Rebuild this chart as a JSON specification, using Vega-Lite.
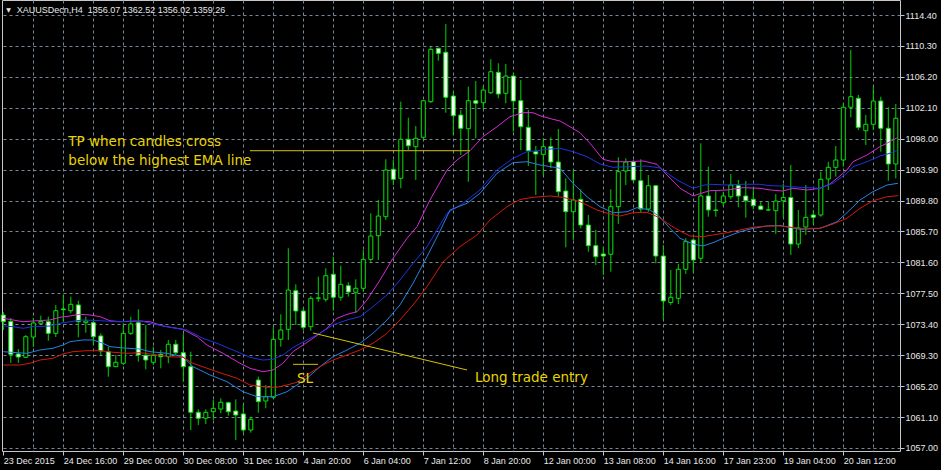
{
"$schema": "https://vega.github.io/schema/vega-lite/v6.json",
"width": 898, "height": 451,
"autosize": {"type": "none"},
"padding": {"left": 2, "top": 0, "right": 41, "bottom": 19},
"background": "#000000",
"config": {"view": {"stroke": "#c8c8c8", "strokeWidth": 1}, "axis": {"title": null, "labelOverlap": false, "labelBound": false, "labelFlush": false}},
"datasets": {
"bars": [
{"i":0,"o":1074.63,"h":1075.03,"l":1072.64,"c":1073.74},
{"i":1,"o":1073.78,"h":1074.23,"l":1068.27,"c":1069.42},
{"i":2,"o":1069.46,"h":1070.12,"l":1068.27,"c":1069.06},
{"i":3,"o":1069.02,"h":1071.98,"l":1068.93,"c":1071.75},
{"i":4,"o":1071.71,"h":1074.23,"l":1070.39,"c":1073.57},
{"i":5,"o":1073.53,"h":1074.54,"l":1073.44,"c":1073.78},
{"i":6,"o":1073.74,"h":1074.41,"l":1071.22,"c":1072.20},
{"i":7,"o":1072.20,"h":1075.96,"l":1071.71,"c":1075.20},
{"i":8,"o":1075.43,"h":1077.28,"l":1073.74,"c":1075.33},
{"i":9,"o":1075.20,"h":1077.06,"l":1074.86,"c":1076.05},
{"i":10,"o":1075.96,"h":1076.53,"l":1071.67,"c":1073.74},
{"i":11,"o":1073.61,"h":1074.41,"l":1072.28,"c":1073.83},
{"i":12,"o":1073.61,"h":1073.90,"l":1070.65,"c":1071.75},
{"i":13,"o":1071.85,"h":1072.20,"l":1069.33,"c":1069.86},
{"i":14,"o":1069.77,"h":1070.43,"l":1066.45,"c":1067.78},
{"i":15,"o":1067.78,"h":1069.33,"l":1067.70,"c":1068.36},
{"i":16,"o":1068.23,"h":1073.53,"l":1068.00,"c":1072.20},
{"i":17,"o":1072.20,"h":1074.41,"l":1071.98,"c":1073.44},
{"i":18,"o":1073.61,"h":1075.39,"l":1068.44,"c":1069.33},
{"i":19,"o":1069.29,"h":1073.31,"l":1067.43,"c":1068.66},
{"i":20,"o":1068.36,"h":1070.43,"l":1068.00,"c":1069.29},
{"i":21,"o":1069.42,"h":1069.99,"l":1067.56,"c":1069.10},
{"i":22,"o":1069.10,"h":1071.32,"l":1068.23,"c":1070.75},
{"i":23,"o":1070.75,"h":1071.32,"l":1069.33,"c":1069.63},
{"i":24,"o":1069.63,"h":1072.20,"l":1065.79,"c":1067.78},
{"i":25,"o":1067.78,"h":1069.77,"l":1059.38,"c":1061.73},
{"i":26,"o":1061.73,"h":1062.13,"l":1060.05,"c":1060.94},
{"i":27,"o":1060.94,"h":1062.13,"l":1060.18,"c":1061.73},
{"i":28,"o":1061.81,"h":1063.36,"l":1060.71,"c":1062.26},
{"i":29,"o":1062.17,"h":1063.59,"l":1061.60,"c":1063.06},
{"i":30,"o":1063.01,"h":1063.14,"l":1061.28,"c":1061.81},
{"i":31,"o":1061.90,"h":1063.45,"l":1058.06,"c":1061.37},
{"i":32,"o":1061.51,"h":1062.70,"l":1059.03,"c":1059.38},
{"i":33,"o":1059.38,"h":1061.15,"l":1059.03,"c":1060.80},
{"i":34,"o":1066.01,"h":1066.45,"l":1061.68,"c":1063.14},
{"i":35,"o":1063.23,"h":1065.35,"l":1062.26,"c":1063.80},
{"i":36,"o":1063.72,"h":1073.00,"l":1063.49,"c":1071.41},
{"i":37,"o":1071.41,"h":1074.72,"l":1070.43,"c":1072.64},
{"i":38,"o":1072.73,"h":1083.47,"l":1071.32,"c":1077.94},
{"i":39,"o":1077.85,"h":1078.70,"l":1073.31,"c":1075.16},
{"i":40,"o":1075.16,"h":1075.56,"l":1072.64,"c":1073.00},
{"i":41,"o":1073.08,"h":1077.15,"l":1072.55,"c":1076.84},
{"i":42,"o":1076.84,"h":1079.71,"l":1076.39,"c":1076.90},
{"i":43,"o":1076.71,"h":1080.82,"l":1076.39,"c":1079.84},
{"i":44,"o":1080.03,"h":1082.36,"l":1075.20,"c":1076.98},
{"i":45,"o":1076.98,"h":1081.17,"l":1076.53,"c":1078.70},
{"i":46,"o":1078.51,"h":1078.97,"l":1077.06,"c":1077.68},
{"i":47,"o":1077.64,"h":1079.36,"l":1074.94,"c":1078.17},
{"i":48,"o":1078.17,"h":1083.25,"l":1077.72,"c":1082.01},
{"i":49,"o":1082.01,"h":1088.11,"l":1081.70,"c":1085.10},
{"i":50,"o":1085.14,"h":1089.88,"l":1081.92,"c":1087.75},
{"i":51,"o":1087.66,"h":1095.27,"l":1087.22,"c":1093.85},
{"i":52,"o":1093.95,"h":1095.18,"l":1091.86,"c":1092.62},
{"i":53,"o":1092.75,"h":1102.91,"l":1091.43,"c":1097.92},
{"i":54,"o":1097.92,"h":1100.79,"l":1096.50,"c":1097.07},
{"i":55,"o":1096.94,"h":1099.69,"l":1092.53,"c":1098.06},
{"i":56,"o":1098.19,"h":1103.13,"l":1097.83,"c":1103.04},
{"i":57,"o":1102.91,"h":1110.16,"l":1102.74,"c":1109.85},
{"i":58,"o":1109.99,"h":1110.05,"l":1108.34,"c":1109.32},
{"i":59,"o":1109.46,"h":1113.21,"l":1101.45,"c":1103.49},
{"i":60,"o":1103.66,"h":1104.23,"l":1098.49,"c":1101.05},
{"i":61,"o":1101.14,"h":1101.81,"l":1095.84,"c":1099.38},
{"i":62,"o":1099.33,"h":1104.90,"l":1092.30,"c":1103.04},
{"i":63,"o":1103.04,"h":1105.65,"l":1098.06,"c":1102.70},
{"i":64,"o":1102.77,"h":1104.99,"l":1101.90,"c":1104.46},
{"i":65,"o":1104.10,"h":1108.53,"l":1103.93,"c":1106.88},
{"i":66,"o":1106.80,"h":1108.00,"l":1103.36,"c":1103.93},
{"i":67,"o":1104.02,"h":1107.90,"l":1102.70,"c":1106.31},
{"i":68,"o":1106.31,"h":1106.75,"l":1098.93,"c":1103.00},
{"i":69,"o":1103.04,"h":1105.78,"l":1096.50,"c":1099.59},
{"i":70,"o":1099.51,"h":1101.81,"l":1094.38,"c":1096.41},
{"i":71,"o":1096.28,"h":1097.03,"l":1090.54,"c":1095.97},
{"i":72,"o":1095.93,"h":1098.06,"l":1093.19,"c":1096.94},
{"i":73,"o":1096.94,"h":1098.19,"l":1094.08,"c":1094.91},
{"i":74,"o":1094.91,"h":1099.29,"l":1090.31,"c":1090.98},
{"i":75,"o":1091.07,"h":1092.75,"l":1083.60,"c":1088.32},
{"i":76,"o":1088.32,"h":1093.85,"l":1084.57,"c":1089.88},
{"i":77,"o":1089.97,"h":1091.29,"l":1086.12,"c":1086.56},
{"i":78,"o":1086.56,"h":1087.89,"l":1083.02,"c":1083.82},
{"i":79,"o":1083.82,"h":1085.90,"l":1081.26,"c":1082.36},
{"i":80,"o":1082.72,"h":1083.68,"l":1079.93,"c":1082.45},
{"i":81,"o":1082.68,"h":1091.29,"l":1080.37,"c":1088.99},
{"i":82,"o":1088.99,"h":1095.54,"l":1086.70,"c":1093.63},
{"i":83,"o":1093.72,"h":1095.40,"l":1091.86,"c":1094.91},
{"i":84,"o":1094.95,"h":1095.18,"l":1092.30,"c":1092.53},
{"i":85,"o":1092.43,"h":1095.27,"l":1088.19,"c":1088.68},
{"i":86,"o":1088.68,"h":1093.19,"l":1088.32,"c":1091.77},
{"i":87,"o":1091.77,"h":1091.85,"l":1081.48,"c":1082.45},
{"i":88,"o":1082.45,"h":1083.91,"l":1074.10,"c":1076.49},
{"i":89,"o":1076.29,"h":1080.60,"l":1075.96,"c":1076.98},
{"i":90,"o":1076.84,"h":1081.39,"l":1076.09,"c":1080.69},
{"i":91,"o":1080.69,"h":1084.80,"l":1080.07,"c":1084.35},
{"i":92,"o":1084.57,"h":1084.80,"l":1080.16,"c":1081.92},
{"i":93,"o":1082.15,"h":1097.39,"l":1081.70,"c":1090.41},
{"i":94,"o":1090.41,"h":1094.29,"l":1087.66,"c":1088.55},
{"i":95,"o":1088.55,"h":1091.11,"l":1087.66,"c":1088.50},
{"i":96,"o":1089.52,"h":1090.98,"l":1089.08,"c":1090.41},
{"i":97,"o":1090.31,"h":1093.32,"l":1089.97,"c":1091.86},
{"i":98,"o":1091.77,"h":1092.53,"l":1088.91,"c":1090.41},
{"i":99,"o":1090.41,"h":1092.40,"l":1087.53,"c":1089.78},
{"i":100,"o":1089.97,"h":1091.43,"l":1088.64,"c":1089.12},
{"i":101,"o":1089.08,"h":1089.65,"l":1088.55,"c":1088.64},
{"i":102,"o":1088.55,"h":1089.65,"l":1088.46,"c":1088.57},
{"i":103,"o":1088.46,"h":1090.67,"l":1085.37,"c":1089.74},
{"i":104,"o":1089.78,"h":1091.99,"l":1087.56,"c":1090.20},
{"i":105,"o":1090.20,"h":1094.52,"l":1082.58,"c":1084.04},
{"i":106,"o":1084.04,"h":1088.55,"l":1083.47,"c":1086.17},
{"i":107,"o":1086.30,"h":1091.86,"l":1085.24,"c":1087.58},
{"i":108,"o":1087.89,"h":1088.55,"l":1086.70,"c":1087.58},
{"i":109,"o":1087.89,"h":1093.63,"l":1087.66,"c":1092.62},
{"i":110,"o":1092.66,"h":1094.95,"l":1091.20,"c":1094.21},
{"i":111,"o":1094.21,"h":1097.03,"l":1092.97,"c":1095.18},
{"i":112,"o":1095.18,"h":1102.70,"l":1094.29,"c":1102.17},
{"i":113,"o":1102.17,"h":1109.76,"l":1100.84,"c":1103.57},
{"i":114,"o":1103.36,"h":1103.80,"l":1099.15,"c":1099.51},
{"i":115,"o":1099.06,"h":1101.14,"l":1097.17,"c":1099.91},
{"i":116,"o":1099.91,"h":1104.90,"l":1099.15,"c":1103.00},
{"i":117,"o":1103.00,"h":1103.57,"l":1096.28,"c":1099.38},
{"i":118,"o":1099.38,"h":1102.17,"l":1092.43,"c":1094.65},
{"i":119,"o":1094.65,"h":1102.60,"l":1092.75,"c":1100.71}
],
"ema": [
{"s":"a","i":0,"p":1074.19},{"s":"a","i":1.29,"p":1073.97},{"s":"a","i":2.63,"p":1073.74},{"s":"a","i":3.96,"p":1073.83},{"s":"a","i":6.23,"p":1073.97},{"s":"a","i":7.56,"p":1074.33},{"s":"a","i":8.89,"p":1074.50},{"s":"a","i":10.23,"p":1074.72},{"s":"a","i":11.56,"p":1074.63},{"s":"a","i":12.89,"p":1074.41},{"s":"a","i":14.23,"p":1073.87},{"s":"a","i":15.56,"p":1073.74},{"s":"a","i":18.23,"p":1073.83},{"s":"a","i":19.56,"p":1073.74},{"s":"a","i":21.29,"p":1073.17},{"s":"a","i":23.96,"p":1072.73},{"s":"a","i":25.83,"p":1071.75},{"s":"a","i":27.16,"p":1070.65},{"s":"a","i":29.29,"p":1069.55},{"s":"a","i":31.56,"p":1068.23},{"s":"a","i":32.89,"p":1067.56},{"s":"a","i":34.63,"p":1067.11},{"s":"a","i":35.96,"p":1067.34},{"s":"a","i":37.29,"p":1068.23},{"s":"a","i":38.63,"p":1069.77},{"s":"a","i":39.96,"p":1070.65},{"s":"a","i":41.29,"p":1071.54},{"s":"a","i":43.16,"p":1072.87},{"s":"a","i":44.49,"p":1074.19},{"s":"a","i":45.83,"p":1074.72},{"s":"a","i":47.16,"p":1075.07},{"s":"a","i":48.49,"p":1076.62},{"s":"a","i":50.23,"p":1079.27},{"s":"a","i":51.96,"p":1082.15},{"s":"a","i":53.83,"p":1084.80},{"s":"a","i":55.16,"p":1086.34},{"s":"a","i":56.89,"p":1089.88},{"s":"a","i":59.16,"p":1093.85},{"s":"a","i":60.49,"p":1095.18},{"s":"a","i":62.23,"p":1096.41},{"s":"a","i":63.96,"p":1098.27},{"s":"a","i":65.83,"p":1099.59},{"s":"a","i":67.56,"p":1100.92},{"s":"a","i":69.29,"p":1101.45},{"s":"a","i":70.63,"p":1101.45},{"s":"a","i":71.56,"p":1101.05},{"s":"a","i":73.29,"p":1100.57},{"s":"a","i":74.23,"p":1100.35},{"s":"a","i":75.56,"p":1099.59},{"s":"a","i":76.89,"p":1098.80},{"s":"a","i":78.23,"p":1097.39},{"s":"a","i":79.96,"p":1095.27},{"s":"a","i":81.29,"p":1094.95},{"s":"a","i":83.16,"p":1094.95},{"s":"a","i":85.29,"p":1095.05},{"s":"a","i":87.16,"p":1094.61},{"s":"a","i":88.49,"p":1093.19},{"s":"a","i":90.23,"p":1091.43},{"s":"a","i":91.96,"p":1090.41},{"s":"a","i":93.29,"p":1090.84},{"s":"a","i":94.23,"p":1091.11},{"s":"a","i":96.49,"p":1091.20},{"s":"a","i":98.63,"p":1091.51},{"s":"a","i":100.89,"p":1091.43},{"s":"a","i":102.23,"p":1091.20},{"s":"a","i":103.96,"p":1091.07},{"s":"a","i":105.29,"p":1091.43},{"s":"a","i":107.16,"p":1091.20},{"s":"a","i":108.89,"p":1091.43},{"s":"a","i":110.23,"p":1092.00},{"s":"a","i":111.16,"p":1092.75},{"s":"a","i":112.49,"p":1093.85},{"s":"a","i":113.29,"p":1094.95},{"s":"a","i":115.16,"p":1095.84},{"s":"a","i":116.89,"p":1096.94},{"s":"a","i":118.23,"p":1097.61},{"s":"a","i":119.29,"p":1098.19},
{"s":"b","i":0,"p":1073.17},{"s":"b","i":1.29,"p":1073.08},{"s":"b","i":2.63,"p":1072.87},{"s":"b","i":3.96,"p":1073.08},{"s":"b","i":6.23,"p":1073.17},{"s":"b","i":7.56,"p":1073.53},{"s":"b","i":8.89,"p":1073.74},{"s":"b","i":10.63,"p":1073.97},{"s":"b","i":12.89,"p":1073.87},{"s":"b","i":15.16,"p":1073.74},{"s":"b","i":18.23,"p":1073.87},{"s":"b","i":19.56,"p":1073.53},{"s":"b","i":22.23,"p":1073.00},{"s":"b","i":24.49,"p":1072.64},{"s":"b","i":26.63,"p":1071.54},{"s":"b","i":28.49,"p":1070.88},{"s":"b","i":31.16,"p":1069.77},{"s":"b","i":32.89,"p":1069.02},{"s":"b","i":34.63,"p":1068.66},{"s":"b","i":35.96,"p":1068.76},{"s":"b","i":37.29,"p":1069.33},{"s":"b","i":38.63,"p":1070.32},{"s":"b","i":40.49,"p":1071.32},{"s":"b","i":42.23,"p":1072.20},{"s":"b","i":43.96,"p":1073.31},{"s":"b","i":45.83,"p":1073.97},{"s":"b","i":47.56,"p":1074.41},{"s":"b","i":49.29,"p":1075.73},{"s":"b","i":51.16,"p":1077.28},{"s":"b","i":52.89,"p":1079.27},{"s":"b","i":54.63,"p":1081.48},{"s":"b","i":56.49,"p":1083.68},{"s":"b","i":58.23,"p":1086.56},{"s":"b","i":59.16,"p":1088.11},{"s":"b","i":61.29,"p":1089.44},{"s":"b","i":63.56,"p":1091.20},{"s":"b","i":65.83,"p":1093.85},{"s":"b","i":67.96,"p":1095.40},{"s":"b","i":69.83,"p":1096.28},{"s":"b","i":71.56,"p":1096.44},{"s":"b","i":72.49,"p":1096.60},{"s":"b","i":74.23,"p":1096.73},{"s":"b","i":75.96,"p":1096.28},{"s":"b","i":77.83,"p":1095.62},{"s":"b","i":79.56,"p":1094.65},{"s":"b","i":81.29,"p":1094.21},{"s":"b","i":83.56,"p":1094.29},{"s":"b","i":85.83,"p":1094.38},{"s":"b","i":87.56,"p":1094.12},{"s":"b","i":89.83,"p":1092.53},{"s":"b","i":91.96,"p":1091.43},{"s":"b","i":93.29,"p":1091.82},{"s":"b","i":94.23,"p":1091.96},{"s":"b","i":96.49,"p":1091.86},{"s":"b","i":98.63,"p":1091.96},{"s":"b","i":100.89,"p":1091.96},{"s":"b","i":102.23,"p":1091.77},{"s":"b","i":103.96,"p":1091.73},{"s":"b","i":106.23,"p":1091.56},{"s":"b","i":108.89,"p":1091.43},{"s":"b","i":110.63,"p":1092.09},{"s":"b","i":112.49,"p":1093.42},{"s":"b","i":113.29,"p":1094.29},{"s":"b","i":115.16,"p":1094.95},{"s":"b","i":116.89,"p":1095.71},{"s":"b","i":118.23,"p":1096.07},{"s":"b","i":119.29,"p":1096.50},
{"s":"c","i":0,"p":1069.77},{"s":"c","i":1.83,"p":1069.63},{"s":"c","i":3.16,"p":1069.55},{"s":"c","i":4.89,"p":1069.99},{"s":"c","i":6.63,"p":1070.22},{"s":"c","i":7.96,"p":1070.65},{"s":"c","i":8.89,"p":1071.09},{"s":"c","i":10.63,"p":1071.32},{"s":"c","i":11.96,"p":1071.32},{"s":"c","i":13.29,"p":1070.88},{"s":"c","i":14.23,"p":1070.43},{"s":"c","i":16.49,"p":1070.22},{"s":"c","i":18.23,"p":1070.12},{"s":"c","i":19.56,"p":1069.77},{"s":"c","i":21.83,"p":1069.55},{"s":"c","i":23.96,"p":1069.10},{"s":"c","i":25.29,"p":1067.78},{"s":"c","i":27.56,"p":1066.68},{"s":"c","i":29.83,"p":1065.79},{"s":"c","i":31.96,"p":1064.46},{"s":"c","i":33.83,"p":1063.80},{"s":"c","i":35.96,"p":1063.80},{"s":"c","i":37.83,"p":1064.46},{"s":"c","i":39.16,"p":1065.35},{"s":"c","i":40.49,"p":1066.24},{"s":"c","i":42.23,"p":1067.78},{"s":"c","i":43.96,"p":1069.10},{"s":"c","i":45.83,"p":1069.99},{"s":"c","i":47.56,"p":1070.88},{"s":"c","i":49.29,"p":1072.20},{"s":"c","i":51.16,"p":1073.97},{"s":"c","i":52.89,"p":1075.96},{"s":"c","i":54.63,"p":1078.83},{"s":"c","i":56.49,"p":1082.36},{"s":"c","i":58.23,"p":1085.77},{"s":"c","i":59.56,"p":1088.55},{"s":"c","i":61.83,"p":1089.44},{"s":"c","i":63.56,"p":1090.76},{"s":"c","i":65.83,"p":1093.42},{"s":"c","i":67.96,"p":1094.82},{"s":"c","i":69.83,"p":1094.95},{"s":"c","i":71.56,"p":1094.52},{"s":"c","i":72.49,"p":1094.38},{"s":"c","i":74.23,"p":1094.08},{"s":"c","i":75.96,"p":1092.09},{"s":"c","i":77.83,"p":1090.31},{"s":"c","i":79.56,"p":1088.99},{"s":"c","i":81.29,"p":1088.19},{"s":"c","i":83.16,"p":1088.32},{"s":"c","i":84.49,"p":1088.86},{"s":"c","i":86.23,"p":1088.55},{"s":"c","i":87.56,"p":1087.62},{"s":"c","i":88.89,"p":1086.12},{"s":"c","i":90.23,"p":1084.80},{"s":"c","i":91.96,"p":1084.04},{"s":"c","i":93.29,"p":1083.78},{"s":"c","i":94.63,"p":1084.22},{"s":"c","i":96.49,"p":1085.01},{"s":"c","i":98.23,"p":1085.67},{"s":"c","i":99.96,"p":1086.12},{"s":"c","i":101.83,"p":1086.43},{"s":"c","i":103.56,"p":1086.50},{"s":"c","i":106.23,"p":1085.99},{"s":"c","i":108.89,"p":1086.12},{"s":"c","i":111.16,"p":1087.00},{"s":"c","i":112.49,"p":1088.19},{"s":"c","i":114.23,"p":1089.88},{"s":"c","i":115.96,"p":1090.98},{"s":"c","i":117.83,"p":1091.86},{"s":"c","i":119.29,"p":1092.09},
{"s":"d","i":0,"p":1068.00},{"s":"d","i":2.23,"p":1068.00},{"s":"d","i":3.56,"p":1068.23},{"s":"d","i":4.89,"p":1068.66},{"s":"d","i":6.63,"p":1068.89},{"s":"d","i":7.96,"p":1069.46},{"s":"d","i":9.29,"p":1069.77},{"s":"d","i":11.16,"p":1069.90},{"s":"d","i":12.89,"p":1069.90},{"s":"d","i":14.63,"p":1069.69},{"s":"d","i":16.49,"p":1069.55},{"s":"d","i":18.23,"p":1069.63},{"s":"d","i":19.56,"p":1069.46},{"s":"d","i":22.23,"p":1069.10},{"s":"d","i":23.96,"p":1069.02},{"s":"d","i":25.29,"p":1068.23},{"s":"d","i":28.49,"p":1067.11},{"s":"d","i":31.16,"p":1066.24},{"s":"d","i":32.89,"p":1065.35},{"s":"d","i":35.16,"p":1065.05},{"s":"d","i":36.49,"p":1065.05},{"s":"d","i":37.83,"p":1065.35},{"s":"d","i":39.16,"p":1065.71},{"s":"d","i":40.49,"p":1066.68},{"s":"d","i":42.23,"p":1067.78},{"s":"d","i":43.96,"p":1068.66},{"s":"d","i":45.83,"p":1069.33},{"s":"d","i":47.56,"p":1069.99},{"s":"d","i":49.29,"p":1070.88},{"s":"d","i":51.16,"p":1072.20},{"s":"d","i":52.89,"p":1073.97},{"s":"d","i":54.63,"p":1075.96},{"s":"d","i":56.49,"p":1078.38},{"s":"d","i":58.63,"p":1081.66},{"s":"d","i":60.89,"p":1083.69},{"s":"d","i":63.16,"p":1085.24},{"s":"d","i":64.89,"p":1087.22},{"s":"d","i":67.16,"p":1088.99},{"s":"d","i":68.89,"p":1089.94},{"s":"d","i":70.63,"p":1090.23},{"s":"d","i":72.89,"p":1090.41},{"s":"d","i":74.63,"p":1090.23},{"s":"d","i":76.89,"p":1089.65},{"s":"d","i":79.16,"p":1088.55},{"s":"d","i":80.89,"p":1088.02},{"s":"d","i":82.23,"p":1087.75},{"s":"d","i":83.96,"p":1088.19},{"s":"d","i":85.83,"p":1088.25},{"s":"d","i":87.56,"p":1087.49},{"s":"d","i":88.89,"p":1086.56},{"s":"d","i":90.23,"p":1085.77},{"s":"d","i":91.56,"p":1085.10},{"s":"d","i":93.29,"p":1085.01},{"s":"d","i":94.63,"p":1085.24},{"s":"d","i":96.49,"p":1085.54},{"s":"d","i":98.23,"p":1085.90},{"s":"d","i":99.96,"p":1086.26},{"s":"d","i":101.83,"p":1086.43},{"s":"d","i":103.56,"p":1086.43},{"s":"d","i":106.23,"p":1086.12},{"s":"d","i":108.89,"p":1086.12},{"s":"d","i":110.63,"p":1086.69},{"s":"d","i":112.49,"p":1087.45},{"s":"d","i":114.23,"p":1088.77},{"s":"d","i":115.96,"p":1089.78},{"s":"d","i":117.83,"p":1090.31},{"s":"d","i":119.29,"p":1090.45}
],
"lines": [
{"i":32.89,"i2":62.23,"p":1096.41,"p2":1096.41},
{"i":41.29,"i2":61.83,"p":1072.24,"p2":1067.34},
{"i":38.63,"i2":41.96,"p":1068.09,"p2":1068.09}
],
"notes": [
{"i":8.67,"p":1096.97,"t":"TP when candles cross"},
{"i":8.67,"p":1094.45,"t":"below the highest EMA line"},
{"i":62.89,"p":1065.75,"t":"Long trade entry"},
{"i":39.16,"p":1065.55,"t":"SL"}
],
"head": [
{"i":1.79,"p":1114.67,"t":"XAUUSDecn,H4\u00a0 1356.07 1362.52 1356.02 1359.26"}
],
"arrow": [
{"i":0.41,"p":1114.80,"t":"▼"}
]
},
"layer": [
{
"data": {"name": "bars"},
"mark": {"type": "rule", "color": "#00d400", "strokeWidth": 1},
"encoding": {
"x": {"field": "i", "type": "quantitative", "scale": {"domain": [-0.173, 119.56], "nice": false, "zero": false, "padding": 0},
 "axis": {"orient": "bottom", "title": null, "tickCount": 200,
  "values": [0,4,8,12,16,20,24,28,32,36,40,44,48,52,56,60,64,68,72,76,80,84,88,92,96,100,104,108,112,116],
  "grid": true, "gridColor": "#778899", "gridDash": [3,3], "gridWidth": 1,
  "gridOpacity": {"condition": {"test": "datum.value == 0", "value": 0}, "value": 1},
  "domain": false, "ticks": true, "tickColor": "#c8c8c8", "tickSize": 4,
  "tickOpacity": {"condition": {"test": "datum.value % 8 == 0", "value": 1}, "value": 0},
  "labels": true,
  "labelExpr": "datum.value % 8 == 0 ? ['23 Dec 2015','24 Dec 16:00','29 Dec 00:00','30 Dec 08:00','31 Dec 16:00','4 Jan 20:00','6 Jan 04:00','7 Jan 12:00','8 Jan 20:00','12 Jan 00:00','13 Jan 08:00','14 Jan 16:00','17 Jan 23:00','19 Jan 04:00','20 Jan 12:00'][datum.value / 8] : ''",
  "labelAlign": "left", "labelBaseline": "alphabetic", "labelPadding": 8,
  "labelColor": "#e8e8e8", "labelFont": "Liberation Sans", "labelFontSize": 9,
  "labelOverlap": false, "labelFlush": false, "labelBound": false}},
"y": {"field": "l", "type": "quantitative", "scale": {"domain": [1056.60, 1116.39], "nice": false, "zero": false, "padding": 0},
 "axis": {"orient": "right", "title": null, "tickCount": 200,
  "values": [1057.0,1061.1,1065.2,1069.3,1073.4,1077.5,1081.6,1085.7,1089.8,1093.9,1098.0,1102.1,1106.2,1110.3,1114.4],
  "format": ".2f", "grid": true, "gridColor": "#778899", "gridDash": [3,3], "gridWidth": 1,
  "domain": false, "ticks": true, "tickColor": "#c8c8c8", "tickSize": 4,
  "labels": true, "labelAlign": "left", "labelBaseline": "middle", "labelPadding": 1,
  "labelColor": "#e8e8e8", "labelFont": "Liberation Sans", "labelFontSize": 9,
  "labelOverlap": false, "labelFlush": false, "labelBound": false}},
"y2": {"field": "h"}
}
},
{
"data": {"name": "bars"},
"mark": {"type": "bar", "size": 4, "stroke": "#00e600", "strokeWidth": 1},
"encoding": {
"x": {"field": "i", "type": "quantitative"},
"y": {"field": "o", "type": "quantitative"},
"y2": {"field": "c"},
"fill": {"condition": {"test": "datum.o > datum.c", "value": "#ffffff"}, "value": "#000000"}
}
},
{
"data": {"name": "ema"},
"mark": {"type": "line", "strokeWidth": 1},
"encoding": {
"x": {"field": "i", "type": "quantitative"},
"y": {"field": "p", "type": "quantitative"},
"color": {"field": "s", "type": "nominal", "legend": null,
 "scale": {"domain": ["a","b","c","d"], "range": ["#d42ad4","#1c34e0","#2382e6","#d41a0c"]}}
}
},
{
"data": {"name": "lines"},
"mark": {"type": "rule", "color": "#d4c200", "strokeWidth": 1},
"encoding": {
"x": {"field": "i", "type": "quantitative"},
"x2": {"field": "i2"},
"y": {"field": "p", "type": "quantitative"},
"y2": {"field": "p2"}
}
},
{
"data": {"name": "notes"},
"mark": {"type": "text", "align": "left", "baseline": "alphabetic", "font": "DejaVu Sans", "fontSize": 13.5, "color": "#e8d400"},
"encoding": {
"x": {"field": "i", "type": "quantitative"},
"y": {"field": "p", "type": "quantitative"},
"text": {"field": "t"}
}
},
{
"data": {"name": "head"},
"mark": {"type": "text", "align": "left", "baseline": "alphabetic", "font": "Liberation Sans", "fontSize": 9, "color": "#e8e8e8"},
"encoding": {
"x": {"field": "i", "type": "quantitative"},
"y": {"field": "p", "type": "quantitative"},
"text": {"field": "t"}
}
},
{
"data": {"name": "arrow"},
"mark": {"type": "text", "align": "left", "baseline": "alphabetic", "font": "DejaVu Sans", "fontSize": 6, "color": "#e8e8e8"},
"encoding": {
"x": {"field": "i", "type": "quantitative"},
"y": {"field": "p", "type": "quantitative"},
"text": {"field": "t"}
}
}
]
}
